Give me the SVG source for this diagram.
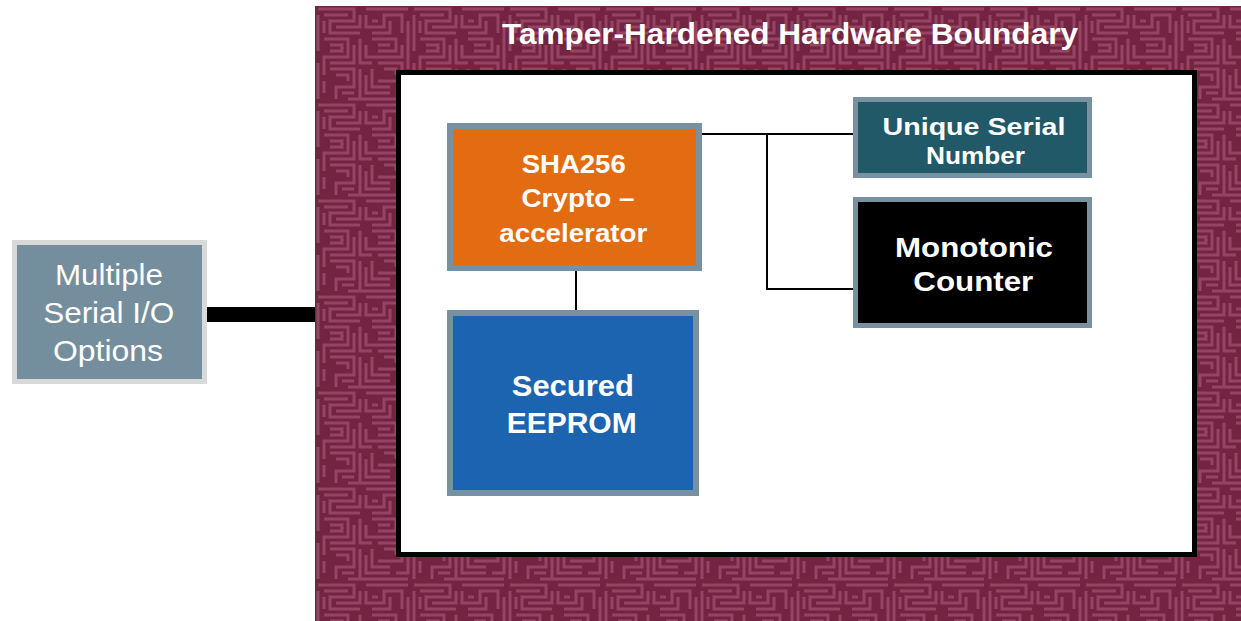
<svg xmlns="http://www.w3.org/2000/svg" width="1241" height="621" viewBox="0 0 1241 621">
  <style>
    .lbl { font-family: "Liberation Sans", Arial, sans-serif; fill: #ffffff; text-anchor: middle; }
    .b { font-weight: bold; }
    .box { stroke: #7891a0; }
    .wire { stroke: #000000; stroke-width: 2; fill: none; }
  </style>
  <defs>
    <!-- maze-like circuit texture for the hardened boundary -->
    <pattern id="maze" x="315" y="6" width="96" height="96" patternUnits="userSpaceOnUse">
      <rect width="96" height="96" fill="#722440"/>
      <g fill="none" stroke="#954463" stroke-width="3">
        <path d="M3 3H39V15H15V27H45"/>
        <path d="M51 3H93"/>
        <path d="M51 9V21H69V9H87V27"/>
        <path d="M3 9V45"/>
        <path d="M9 33H33V51H9V69"/>
        <path d="M45 33V57H57"/>
        <path d="M57 33H81V45H63"/>
        <path d="M93 15V63"/>
        <path d="M3 57V93"/>
        <path d="M15 63H39V81H21V93"/>
        <path d="M51 69V87H75"/>
        <path d="M63 57H87V75H63"/>
        <path d="M33 93H93"/>
        <path d="M15 39H27V45H15"/>
        <path d="M69 63H81V69"/>
        <path d="M45 63V93"/>
        <path d="M57 63V81H75"/>
        <path d="M9 75V87"/>
        <path d="M93 69V87H81"/>
        <path d="M57 15H63"/>
        <path d="M75 15V27H57"/>
        <path d="M9 9H33"/>
        <path d="M9 15V27"/>
        <path d="M21 21H45V9"/>
        <path d="M39 39V57H15"/>
        <path d="M51 39V51H87V39"/>
        <path d="M63 39H75"/>
        <path d="M21 69H33V75"/>
        <path d="M27 87H39"/>
      </g>
    </pattern>
  </defs>

  <rect width="1241" height="621" fill="#ffffff"/>

  <!-- tamper-hardened boundary -->
  <g id="boundary">
    <rect x="315" y="6" width="926" height="615" fill="url(#maze)"/>
    <text class="lbl b" x="790" y="44" font-size="30" textLength="576" lengthAdjust="spacingAndGlyphs">Tamper-Hardened Hardware Boundary</text>
    <rect x="398.5" y="72.5" width="796" height="482" fill="#ffffff" stroke="#000000" stroke-width="5"/>
  </g>

  <!-- connectors -->
  <g id="connectors">
    <rect x="207" y="307" width="108" height="15" fill="#000000"/>
    <path class="wire" d="M702 134H853"/>
    <path class="wire" d="M767 134V289H855"/>
    <path class="wire" d="M576 271V310"/>
  </g>

  <g id="serial-io">
    <rect x="14.5" y="242.5" width="190" height="139" fill="#748e9d" stroke="#d9d9d9" stroke-width="5"/>
    <text class="lbl" font-size="30" x="109" y="285" textLength="108" lengthAdjust="spacingAndGlyphs">Multiple</text>
    <text class="lbl" font-size="30" x="108.7" y="323" textLength="131" lengthAdjust="spacingAndGlyphs">Serial I/O</text>
    <text class="lbl" font-size="30" x="108" y="361" textLength="110" lengthAdjust="spacingAndGlyphs">Options</text>
  </g>

  <g id="sha256">
    <rect class="box" x="450" y="126" width="249" height="142" fill="#e36c13" stroke-width="6"/>
    <text class="lbl b" font-size="25" x="573.7" y="173" textLength="104" lengthAdjust="spacingAndGlyphs">SHA256</text>
    <text class="lbl b" font-size="25" x="578" y="207" textLength="113" lengthAdjust="spacingAndGlyphs">Crypto –</text>
    <text class="lbl b" font-size="25" x="573.3" y="241.5" textLength="148" lengthAdjust="spacingAndGlyphs">accelerator</text>
  </g>

  <g id="eeprom">
    <rect class="box" x="450" y="313" width="246" height="180" fill="#1c63b0" stroke-width="6"/>
    <text class="lbl b" font-size="29" x="572.8" y="395.5" textLength="122" lengthAdjust="spacingAndGlyphs">Secured</text>
    <text class="lbl b" font-size="29" x="571.7" y="433" textLength="130" lengthAdjust="spacingAndGlyphs">EEPROM</text>
  </g>

  <g id="serial-number">
    <rect class="box" x="855.5" y="99.5" width="234" height="76" fill="#215968" stroke-width="5"/>
    <text class="lbl b" font-size="24" x="974" y="135" textLength="183" lengthAdjust="spacingAndGlyphs">Unique Serial</text>
    <text class="lbl b" font-size="24" x="975.5" y="164" textLength="99" lengthAdjust="spacingAndGlyphs">Number</text>
  </g>

  <g id="monotonic-counter">
    <rect class="box" x="855.5" y="199.5" width="234" height="126" fill="#000000" stroke-width="5"/>
    <text class="lbl b" font-size="28" x="974" y="256.5" textLength="158" lengthAdjust="spacingAndGlyphs">Monotonic</text>
    <text class="lbl b" font-size="28" x="973.3" y="290.5" textLength="120" lengthAdjust="spacingAndGlyphs">Counter</text>
  </g>
</svg>
